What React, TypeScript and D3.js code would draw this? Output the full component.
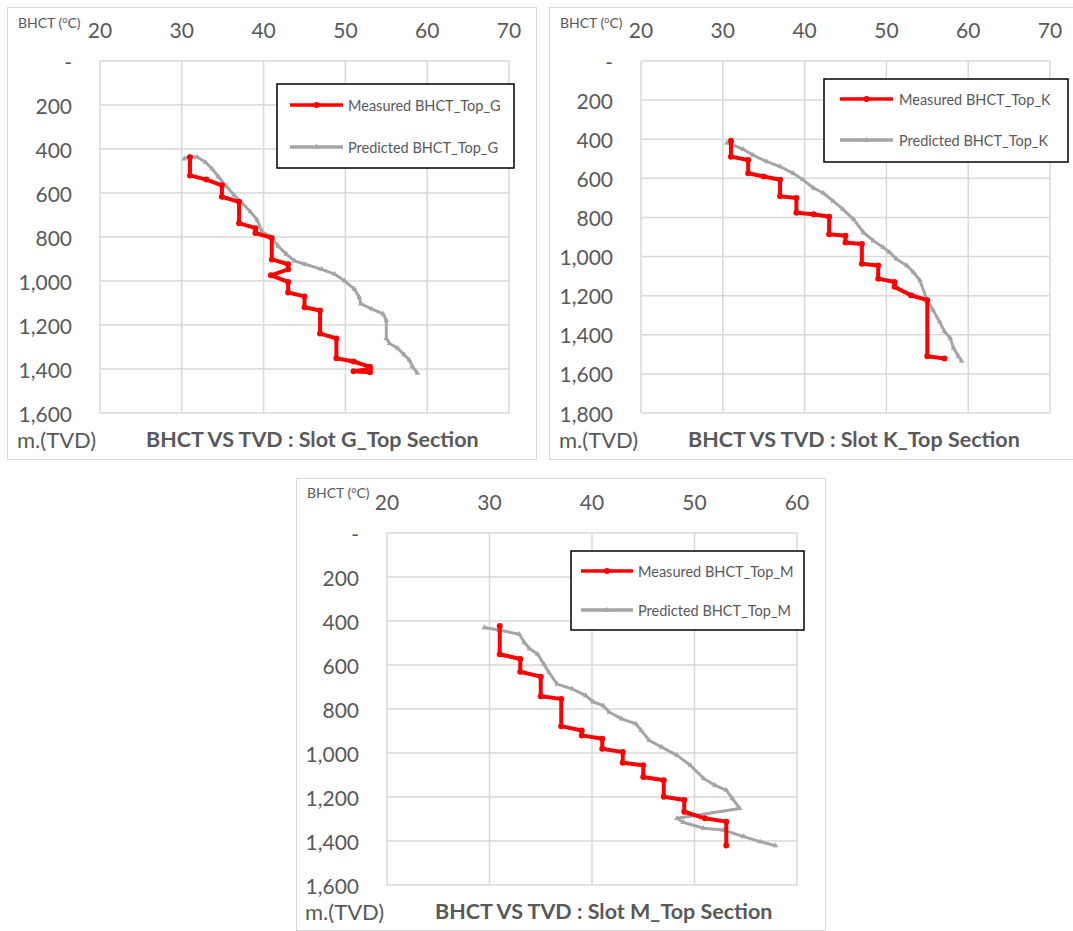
import React from 'react';
import * as d3 from 'd3';

// temperature ticks (top axis) and depth ticks (left axis)
const tempTicksG = [20, 30, 40, 50, 60, 70];
const tempTicksK = [20, 30, 40, 50, 60, 70];
const tempTicksM = [20, 30, 40, 50, 60];
const depthTicksG = [0, 200, 400, 600, 800, 1000, 1200, 1400, 1600];
const depthTicksK = [0, 200, 400, 600, 800, 1000, 1200, 1400, 1600, 1800];
const depthTicksM = [0, 200, 400, 600, 800, 1000, 1200, 1400, 1600];

// [BHCT degC, TVD m]
const measuredG = [
  [31, 437], [31, 520], [33, 539], [34.9, 565], [34.9, 617], [37, 640], [37, 737],
  [39, 760], [39, 782], [41, 804], [41, 902], [43, 924], [43, 947], [40.9, 974],
  [43, 1004], [43, 1052], [45, 1070], [45, 1119], [46.9, 1134], [46.9, 1239],
  [48.9, 1261], [48.9, 1351], [51, 1366], [53, 1390], [53, 1400], [51, 1410], [53, 1415],
];
const predictedG = [
  [30.3, 445], [30.9, 434], [31.9, 437], [32.9, 460], [33.7, 490], [34.5, 527],
  [35.5, 572], [36.4, 610], [37.4, 647], [38.4, 685], [39.2, 722], [39.8, 775],
  [40.8, 797], [41.8, 842], [42.8, 879], [43.8, 909], [45.1, 924], [47.1, 947],
  [48.7, 969], [49.9, 999], [51.1, 1037], [51.7, 1074], [51.9, 1104], [53.2, 1127],
  [54.6, 1149], [55, 1179], [55, 1261], [55.4, 1284], [56.4, 1306], [57.2, 1336],
  [57.8, 1359], [58.2, 1389], [58.8, 1419],
];

const measuredK = [
  [31, 408], [31, 489], [33.1, 506], [33.1, 574], [35, 591], [37, 607], [37, 692],
  [39, 700], [39, 776], [41.1, 784], [43, 796], [43, 886], [45, 894], [45, 928],
  [47, 936], [47, 1037], [49, 1046], [49, 1113], [51, 1130], [51, 1155], [53, 1198],
  [55, 1223], [55, 1510], [57.1, 1521],
];
const predictedK = [
  [30.5, 419], [31.3, 430], [32.5, 452], [33.7, 481], [35.4, 515], [37, 540],
  [38.6, 574], [39.8, 607], [41.1, 650], [42.3, 675], [43.5, 717], [44.7, 759],
  [46, 810], [47.2, 877], [48.4, 919], [49.6, 953], [50.4, 978], [51.2, 1012],
  [52.5, 1046], [53.3, 1080], [54.1, 1122], [54.9, 1215], [55.7, 1273], [56.5, 1333],
  [57.1, 1383], [57.8, 1417], [58.2, 1467], [58.8, 1510], [59.2, 1535],
];

const measuredM = [
  [31, 423], [31, 551], [33, 573], [33, 631], [35, 653], [35, 742], [37, 754],
  [37, 878], [39, 898], [39, 920], [41, 935], [41, 981], [43, 996], [43, 1044],
  [45, 1056], [45, 1109], [47, 1124], [47, 1199], [49, 1214], [49, 1267],
  [51, 1297], [53.1, 1312], [53.1, 1421],
];
const predictedM = [
  [29.5, 430], [30.9, 441], [32.9, 460], [33.4, 498], [33.9, 525], [34.7, 551],
  [35.3, 596], [35.8, 634], [36.6, 687], [38.1, 709], [39.4, 739], [40.1, 767],
  [41.1, 785], [41.7, 815], [42.9, 845], [44.3, 868], [44.8, 898], [45.6, 943],
  [46.8, 973], [48.3, 1011], [49.6, 1056], [50.9, 1116], [52, 1147], [53.1, 1169],
  [53.7, 1207], [54.4, 1252], [48.3, 1297], [48.9, 1315], [50.9, 1342], [52.8, 1350],
  [54.8, 1380], [56.4, 1403], [57.9, 1421],
];

const TEXT = '#595959';
const GRID = '#D9D9D9';
const RED = '#FF0000';
const GRAY = '#A5A5A5';
const FONT = 'Lato, "Open Sans", sans-serif';

const charts = [
  {
    slot: 'G', tempTicks: tempTicksG, depthTicks: depthTicksG, measured: measuredG, predicted: predictedG,
    frame: { x: 7.5, y: 7.5, w: 529, h: 452 },
    plot: { left: 100, right: 509, top: 61, bottom: 413 },
    legend: { x: 277, y: 84, w: 237, h: 84, row1: 105, row2: 147, lx0: 290, lx1: 343, tx: 348 },
    yLabelX: 72, bhct: { x: 18, y: 28 }, unit: { x: 17, y: 448 }, title: { x: 146, y: 447 },
  },
  {
    slot: 'K', tempTicks: tempTicksK, depthTicks: depthTicksK, measured: measuredK, predicted: predictedK,
    frame: { x: 549.5, y: 7.5, w: 540, h: 452 },
    plot: { left: 641, right: 1050, top: 61, bottom: 413 },
    legend: { x: 824, y: 79, w: 244, h: 83, row1: 99, row2: 140, lx0: 840, lx1: 893, tx: 899 },
    yLabelX: 613, bhct: { x: 560, y: 28 }, unit: { x: 559, y: 448 }, title: { x: 688, y: 447 },
  },
  {
    slot: 'M', tempTicks: tempTicksM, depthTicks: depthTicksM, measured: measuredM, predicted: predictedM,
    frame: { x: 296.5, y: 478.5, w: 529, h: 452 },
    plot: { left: 387, right: 797, top: 533, bottom: 885 },
    legend: { x: 571, y: 551, w: 233, h: 79, row1: 571, row2: 610, lx0: 581, lx1: 633, tx: 638 },
    yLabelX: 359, bhct: { x: 307, y: 498 }, unit: { x: 305, y: 920 }, title: { x: 435, y: 919 },
  },
];

const depthFmt = (d: number) => (d === 0 ? '-' : d3.format(',')(d));
const triangle = d3.symbol(d3.symbolTriangle, 14)() as string;

function Chart({ c }: { c: any }) {
  const x = d3.scaleLinear()
    .domain([c.tempTicks[0], c.tempTicks[c.tempTicks.length - 1]])
    .range([c.plot.left, c.plot.right]);
  const y = d3.scaleLinear()
    .domain([0, c.depthTicks[c.depthTicks.length - 1]])
    .range([c.plot.top, c.plot.bottom]);
  const line = d3.line<number[]>().x(d => x(d[0])).y(d => y(d[1]));
  const lg = c.legend;

  return (
    <g fontFamily={FONT}>
      <rect x={c.frame.x} y={c.frame.y} width={c.frame.w} height={c.frame.h} fill="#fff" stroke={GRID} strokeWidth={1} />

      {/* grid */}
      {c.tempTicks.map((t: number) => (
        <line key={'vx' + t} x1={x(t)} x2={x(t)} y1={c.plot.top} y2={c.plot.bottom} stroke={GRID} strokeWidth={1.5} />
      ))}
      {c.depthTicks.map((t: number) => (
        <line key={'hy' + t} x1={c.plot.left} x2={c.plot.right} y1={y(t)} y2={y(t)} stroke={GRID} strokeWidth={1.5} />
      ))}

      {/* tick labels */}
      {c.tempTicks.map((t: number) => (
        <text key={'tx' + t} x={x(t)} y={c.plot.top - 32} fontSize={21} fill={TEXT} textAnchor="middle" dominantBaseline="central">{t}</text>
      ))}
      {c.depthTicks.map((t: number) => (
        <text key={'ty' + t} x={c.yLabelX} y={y(t)} fontSize={21} fill={TEXT} textAnchor="end" dominantBaseline="central">{depthFmt(t)}</text>
      ))}

      <text x={c.bhct.x} y={c.bhct.y} fontSize={14} fill={TEXT}>
        BHCT (<tspan fontSize={9} dy={-5}>o</tspan><tspan dy={5}>C)</tspan>
      </text>
      <text x={c.unit.x} y={c.unit.y} fontSize={22} fill={TEXT}>m.(TVD)</text>
      <text x={c.title.x} y={c.title.y} fontSize={21.5} fontWeight="bold" fill={TEXT}>
        {`BHCT VS TVD : Slot ${c.slot}_Top Section`}
      </text>

      {/* series */}
      <path d={line(c.predicted) as string} fill="none" stroke={GRAY} strokeWidth={3} strokeLinejoin="round" />
      {c.predicted.map((d: number[], i: number) => (
        <path key={'pm' + i} d={triangle} transform={`translate(${x(d[0])},${y(d[1])})`} fill={GRAY} />
      ))}
      <path d={line(c.measured) as string} fill="none" stroke={RED} strokeWidth={4} strokeLinejoin="round" />
      {c.measured.map((d: number[], i: number) => (
        <circle key={'mm' + i} cx={x(d[0])} cy={y(d[1])} r={3} fill={RED} />
      ))}

      {/* legend */}
      <rect x={lg.x} y={lg.y} width={lg.w} height={lg.h} fill="#fff" stroke="#000" strokeWidth={1.5} />
      <line x1={lg.lx0} x2={lg.lx1} y1={lg.row1} y2={lg.row1} stroke={RED} strokeWidth={3.5} />
      <circle cx={(lg.lx0 + lg.lx1) / 2} cy={lg.row1} r={3} fill={RED} />
      <text x={lg.tx} y={lg.row1} fontSize={14.5} fill={TEXT} dominantBaseline="central">{`Measured BHCT_Top_${c.slot}`}</text>
      <line x1={lg.lx0} x2={lg.lx1} y1={lg.row2} y2={lg.row2} stroke={GRAY} strokeWidth={3.5} />
      <path d={triangle} transform={`translate(${(lg.lx0 + lg.lx1) / 2},${lg.row2})`} fill={GRAY} />
      <text x={lg.tx} y={lg.row2} fontSize={14.5} fill={TEXT} dominantBaseline="central">{`Predicted BHCT_Top_${c.slot}`}</text>
    </g>
  );
}

export default function App() {
  return (
    <svg width={1073} height={931} style={{ position: 'absolute', left: 0, top: 0, background: '#fff' }}>
      {charts.map(c => <Chart key={c.slot} c={c} />)}
    </svg>
  );
}
